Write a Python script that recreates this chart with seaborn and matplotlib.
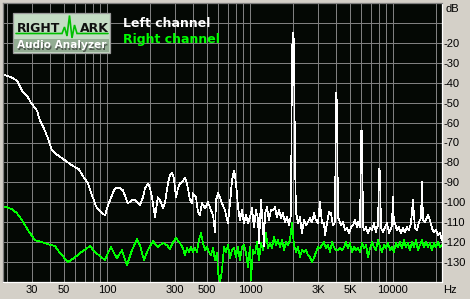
import numpy as np
import pandas as pd
import seaborn as sns
import matplotlib
matplotlib.use("Agg")
import matplotlib.pyplot as plt
from matplotlib.patches import Rectangle
from matplotlib.ticker import FixedLocator, FixedFormatter, NullLocator

# ---------------- data ----------------
left_freq = [18.75, 20, 21.7, 23.5, 25.5, 27.6, 29.4, 32.4, 34, 36.3, 38.7, 41.3, 45.5, 50.9, 57, 63.8, 68, 73.7,
             78.6, 85, 90.8, 97, 100, 105, 112, 117.5, 123.4, 129.5, 140, 149.7, 157, 170, 178.7, 184.5, 194, 200,
             206.6, 217, 227, 235, 247, 255, 267, 276, 285, 294, 304, 314, 324, 340, 351, 363, 381, 393, 400, 420,
             433, 447, 462, 485, 509, 534, 552, 570, 579, 598, 618, 638, 669, 702, 726, 749, 774, 786, 812, 825,
             852, 880, 909, 939, 969, 1000, 1034, 1067, 1102, 1138, 1157, 1195, 1234, 1254, 1274, 1316, 1359, 1404,
             1450, 1497, 1546, 1597, 1649, 1703, 1759, 1816, 1876, 1937, 1969, 2000, 2033, 2066, 2100, 2168, 2240,
             2313, 2389, 2467, 2547, 2631, 2717, 2806, 2897, 2992, 3091, 3192, 3296, 3350, 3459, 3572, 3690, 3811,
             3935, 4000, 4065, 4131, 4335, 4477, 4624, 4775, 4931, 5093, 5260, 5432, 5610, 5701, 5888, 6000, 6081,
             6180, 6280, 6485, 6697, 6917, 7143, 7377, 7618, 7742, 7867, 8000, 8126, 8258, 8528, 8807, 9095, 9393,
             9691, 9848, 10000, 10170, 10335, 10673, 11022, 11382, 11754, 12139, 12537, 12945, 13374, 13810, 14263,
             14731, 15211, 15711, 16000, 16224, 16756, 17581, 18160, 18754, 19368, 20000, 20654, 21330, 22028]
left_db = [-36, -36.5, -37.5, -39, -44, -46.5, -50, -54, -59, -63, -68, -74, -76.5, -79, -81.5, -83.5, -87, -90.5,
           -96.5, -103, -105, -106.5, -103, -99, -94, -92.5, -93, -94, -100.5, -99, -99, -101.5, -97.5, -93, -90.5, -93,
           -97.5, -107.5, -97.5, -99, -103, -100, -90.5, -86.5, -85, -88, -97.5, -93, -90.5, -89.5, -87.5, -90.5, -99,
           -100.5, -95.5, -97.5, -105, -106.5, -100.5, -103, -100, -104, -106.5, -115, -99, -95.5, -97.5, -100.5, -104,
           -110.5, -100.5, -89, -84, -86.5, -95.5, -102.5, -109, -104, -110.5, -106.5, -110.5, -107.5, -103, -112.5,
           -104, -108, -120.5, -99, -112.5, -122, -105.5, -102.5, -109, -104, -104, -102.5, -107.5, -104, -108, -105.5,
           -110, -107.5, -111.5, -106.5, -24, -15, -19.5, -79, -105, -110.5, -107.5, -115.5, -109, -111.5, -110, -108,
           -110, -105.5, -109, -110.5, -100, -110.5, -110.5, -116.5, -110.5, -105, -105.5, -111.5, -110, -45, -50,
           -107.5, -111.5, -110, -114, -113, -115.5, -112.5, -111.5, -109, -112.5, -110, -112.5, -64, -64, -112, -114,
           -112.5, -115.5, -113, -114, -110.5, -115, -112.5, -112, -83, -85, -113, -115, -112.5, -110.5, -115.5, -113,
           -112, -97, -111, -110.5, -114, -112.5, -115.5, -113, -115, -112.5, -114, -110.5, -99, -113, -114, -110,
           -108, -89.5, -109, -110, -106.5, -109, -113, -115, -114, -116.5, -115.5, -119]

right_freq = [18.75, 20, 21.7, 23.5, 25.5, 28, 31.4, 35.1, 38.7, 43.3, 47, 53.4, 58.8, 64.8, 76.1, 82.5, 89.4, 97,
              101.7, 106.7, 112, 117.5, 127.4, 138, 149.7, 162.3, 170, 181.6, 190.6, 200, 209.9, 220.3, 227, 235, 247,
              263, 276, 290, 304, 324, 340, 351, 363, 375, 387, 400, 413, 426, 440, 455, 470, 485, 501, 517, 534, 552,
              570, 588, 598, 618, 638, 659, 680, 702, 726, 749, 774, 799, 825, 852, 880, 909, 939, 969, 1000, 1017,
              1050, 1085, 1120, 1157, 1195, 1234, 1274, 1295, 1337, 1381, 1426, 1473, 1521, 1571, 1623, 1676, 1731,
              1787, 1846, 1906, 1969, 2033, 2100, 2168, 2240, 2313, 2389, 2467, 2547, 2631, 2717, 2806, 2897, 2992,
              3091, 3192, 3296, 3404, 3516, 3631, 3750, 3873, 3999, 4131, 4266, 4406, 4550, 4698, 4852, 5012, 5176,
              5345, 5520, 5701, 5888, 6081, 6280, 6485, 6697, 6917, 7143, 7377, 7618, 7867, 8126, 8392, 8667, 8950,
              9243, 9536, 9848, 10170, 10502, 10846, 11200, 11567, 11945, 12335, 12738, 13160, 13590, 14035, 14493,
              14967, 15460, 15966, 16488, 17026, 17581, 18160, 18754, 19368, 20000, 20654, 21330, 22028]
right_db = [-102, -102.5, -103.5, -105.5, -109, -114, -119, -120, -121, -122, -125.5, -130, -128, -125.5, -122, -125,
            -127, -129, -125.5, -122.5, -125.5, -128, -124, -131.5, -124, -118.5, -121.5, -129, -125, -122, -119.5,
            -121.5, -122.5, -121.5, -120.5, -121.5, -123.5, -120, -118, -120.5, -123, -126.5, -123, -125, -122.5, -125,
            -123, -125, -119, -115.5, -120.5, -124, -122.5, -125, -126.5, -123, -129, -125.5, -135.5, -140, -134,
            -122.5, -125, -121.5, -128, -124, -123, -127.5, -122.5, -129, -122.5, -121.5, -125.5, -132.5, -122.5, -139,
            -124, -125.5, -120, -129, -120.5, -124, -119, -115.5, -123, -120.5, -123, -117.5, -121.5, -119, -122.5,
            -119, -124, -120, -121.5, -119, -110.5, -121.5, -125, -122.5, -127.5, -124, -125, -124, -126.5, -127.5,
            -130, -128, -125, -122.5, -123, -121.5, -120, -123, -121.5, -125, -120, -122.5, -124, -124, -123, -124,
            -122.5, -120, -123, -120.5, -125, -122.5, -124, -123, -125, -120.5, -123, -121.5, -127.5, -123, -120,
            -122.5, -124, -119, -122.5, -125, -121.5, -123, -120.5, -124, -122.5, -125, -120.5, -122.5, -120, -123,
            -119, -122.5, -120.5, -124, -120, -122.5, -119, -124, -121.5, -119, -122.5, -120, -122.5, -120.5, -124,
            -120.5, -122.5, -120, -122.5, -121.5]

x_grid = [20, 30, 40, 50, 60, 70, 80, 90, 100, 200, 300, 400, 500, 600, 700, 800, 900,
          1000, 2000, 3000, 4000, 5000, 6000, 7000, 8000, 9000, 10000, 20000]
x_labels = {30: "30", 50: "50", 100: "100", 300: "300", 500: "500", 1000: "1000",
            3000: "3K", 5000: "5K", 10000: "10000"}
y_grid = [-130, -120, -110, -100, -90, -80, -70, -60, -50, -40, -30, -20, -10]
y_labels = ["-130", "-120", "-110", "-100", "-90", "-80", "-70", "-60", "-50", "-40", "-30", "-20", ""]

legend_names = ["Left channel", "Right channel"]

# ---------------- style ----------------
W, H = 470, 299
BG = "#d4d0c8"
PLOT_BG = "#040804"
GRID = "#808080"
GREEN = "#00ff00"

sns.set_style("dark")
plt.rcParams["font.family"] = ["Liberation Sans", "DejaVu Sans"]

fig = plt.figure(figsize=(W / 100, H / 100), dpi=100, facecolor=BG)
ax = fig.add_axes([3 / W, 17 / H, 439 / W, 279 / H])
ax.set_facecolor(PLOT_BG)
ax.set_xscale("log")

df_l = pd.DataFrame({"freq": left_freq, "db": left_db})
df_r = pd.DataFrame({"freq": right_freq, "db": right_db})

ax.set_xlim(18.75, 22050)
ax.set_ylim(-140, 0)

# grid
ax.xaxis.set_major_locator(FixedLocator(x_grid))
ax.xaxis.set_minor_locator(NullLocator())
ax.xaxis.set_major_formatter(FixedFormatter([x_labels.get(v, "") for v in x_grid]))
ax.yaxis.set_major_locator(FixedLocator(y_grid))
ax.yaxis.set_major_formatter(FixedFormatter(y_labels))
ax.grid(True, color=GRID, linewidth=0.5, linestyle="-", antialiased=False)
ax.set_axisbelow(True)

sns.lineplot(data=df_r, x="freq", y="db", ax=ax, color=GREEN, linewidth=0.5,
             estimator=None, sort=False, legend=False, antialiased=False)
sns.lineplot(data=df_l, x="freq", y="db", ax=ax, color="white", linewidth=0.5,
             estimator=None, sort=False, legend=False, antialiased=False)

ax.set_xlim(18.75, 22050)
ax.set_ylim(-140, 0)
ax.set_xlabel("")
ax.set_ylabel("")

ax.yaxis.tick_right()
ax.tick_params(axis="both", length=0, labelsize=8, colors="black")
ax.tick_params(axis="y", pad=1)
ax.tick_params(axis="x", pad=2.5)
for lab in ax.get_yticklabels():
    lab.set_horizontalalignment("left")

for side, col in (("left", "#808080"), ("top", "#808080"), ("right", "white"), ("bottom", "white")):
    ax.spines[side].set_visible(True)
    ax.spines[side].set_color(col)
    ax.spines[side].set_linewidth(0.9)

# overlay in pixel coordinates for logo / legend / unit labels
ov = fig.add_axes([0, 0, 1, 1], facecolor="none")
ov.set_xlim(0, W)
ov.set_ylim(H, 0)
ov.axis("off")

ov.text(446, 12, "dB", fontsize=8, ha="left", va="baseline", color="black")
ov.text(443, 293, "Hz", fontsize=8, ha="left", va="baseline", color="black")

# logo
ov.add_patch(Rectangle((13, 13), 97, 40, facecolor="#c4dcc4", edgecolor="#9a9a9a", linewidth=0.9, zorder=5))
ov.add_patch(Rectangle((14, 39), 95, 13, facecolor="#93ad93", edgecolor="none", zorder=6))
ov.plot([16, 62, 64.5, 67, 69.5, 72, 74.5, 77, 108], [33.5, 33.5, 27, 36, 15.5, 38, 25, 33.5, 33.5],
        color="#00c000", linewidth=1.2, zorder=7, solid_joinstyle="miter")
ov.text(17, 32, "RIGHT", fontsize=9, fontweight="bold", family="DejaVu Sans", color="#101010",
        ha="left", va="baseline", zorder=8)
ov.text(80, 32, "ARK", fontsize=9, fontweight="bold", family="DejaVu Sans", color="#101010",
        ha="left", va="baseline", zorder=8)
ov.text(18, 49.5, "Audio Analyzer", fontsize=7.6, fontweight="bold", family="DejaVu Sans", color="#505a50",
        ha="left", va="baseline", zorder=8)
ov.text(17, 48.5, "Audio Analyzer", fontsize=7.6, fontweight="bold", family="DejaVu Sans", color="white",
        ha="left", va="baseline", zorder=9)

# legend texts
ov.text(123, 27.3, legend_names[0], fontsize=9, fontweight="bold", family="DejaVu Sans", color="white",
        ha="left", va="baseline")
ov.text(123, 42.7, legend_names[1], fontsize=9, fontweight="bold", family="DejaVu Sans", color=GREEN,
        ha="left", va="baseline")

fig.savefig("out.png", dpi=100, facecolor=BG)
